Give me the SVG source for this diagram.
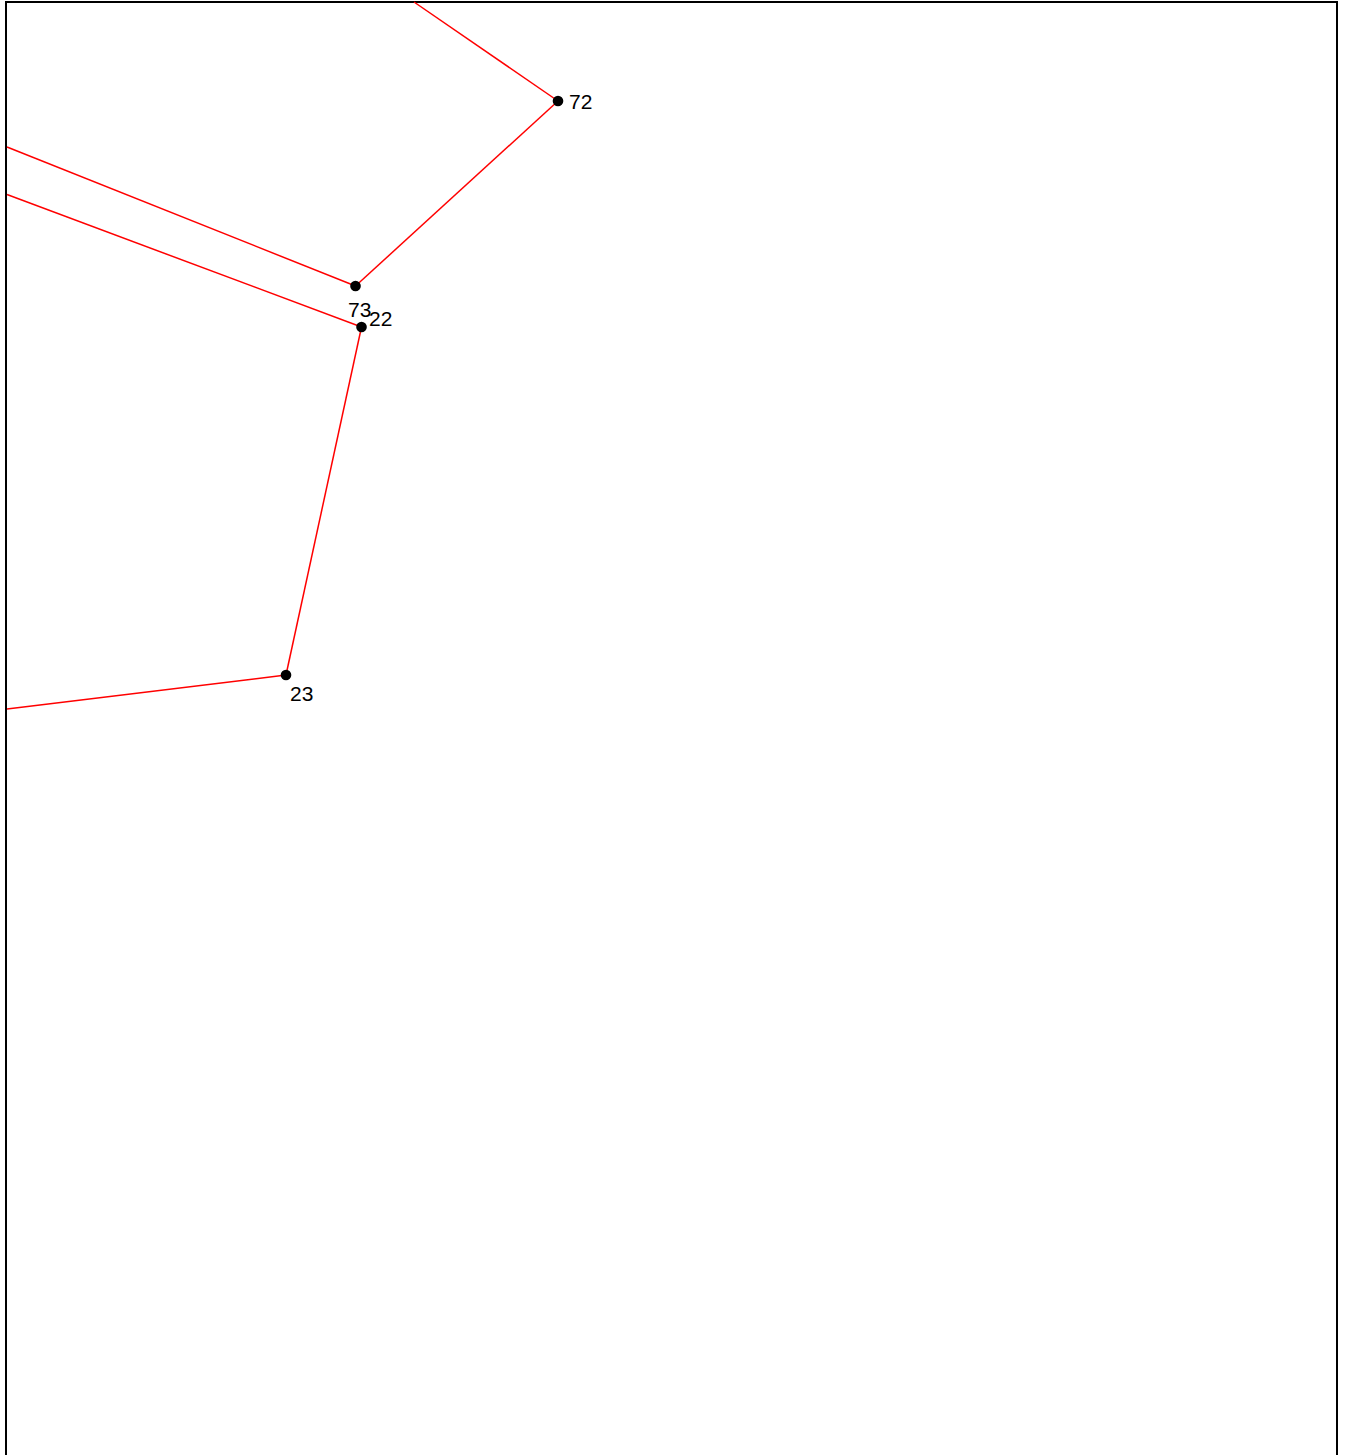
<svg xmlns="http://www.w3.org/2000/svg" width="1346" height="1455" viewBox="0 0 1346 1455">
<style>
.edge{stroke:#ff0000;stroke-width:1.5;fill:none}
.dot{fill:#000}
.lbl{font-family:"Liberation Sans",Arial,sans-serif;font-size:21px;fill:#000}
</style>
<rect width="1346" height="1455" fill="#fff"/>
<path d="M6,1456 V2 H1337 V1456" fill="none" stroke="#000" stroke-width="2"/>
<g id="connectors">
<line class="edge" x1="414" y1="2" x2="558" y2="101"/>
<line class="edge" x1="558" y1="101" x2="355.5" y2="286"/>
<line class="edge" x1="7" y1="147" x2="355.5" y2="286"/>
<line class="edge" x1="7" y1="194.5" x2="361.5" y2="327"/>
<line class="edge" x1="361.5" y1="327" x2="286" y2="675"/>
<line class="edge" x1="286" y1="675" x2="7" y2="709"/>
</g>
<g id="n72"><circle class="dot" cx="558" cy="101" r="5.3"/><text class="lbl" x="569" y="109">72</text></g>
<g id="n73"><circle class="dot" cx="355.5" cy="286" r="5.3"/><text class="lbl" x="348" y="317">73</text></g>
<g id="n22"><circle class="dot" cx="361.5" cy="327" r="5.3"/><text class="lbl" x="369" y="326">22</text></g>
<g id="n23"><circle class="dot" cx="286" cy="675" r="5.3"/><text class="lbl" x="290" y="701">23</text></g>
</svg>
